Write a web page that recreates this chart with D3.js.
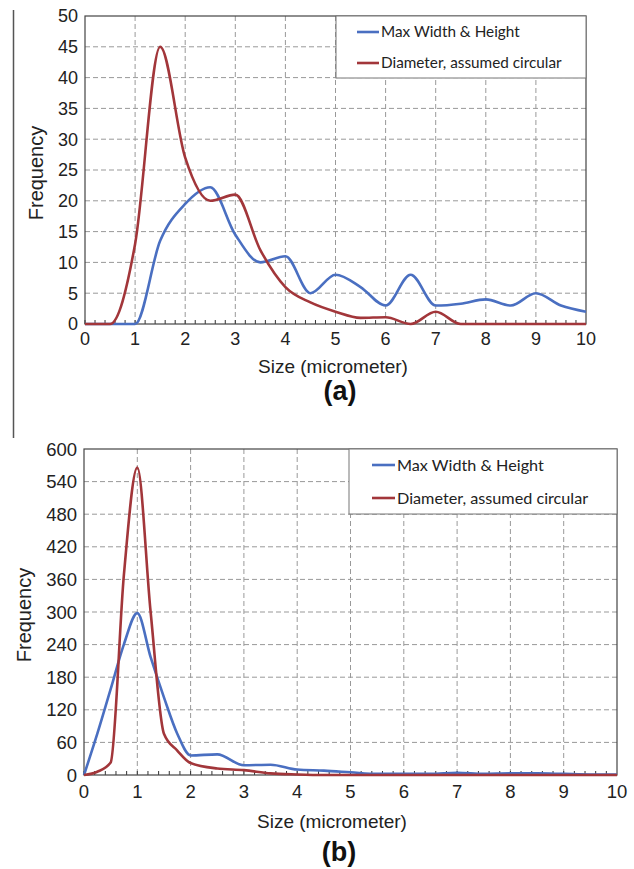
<!DOCTYPE html>
<html>
<head>
<meta charset="utf-8">
<script src="https://cdn.jsdelivr.net/npm/d3@7"></script>
<style>
  body { margin: 0; background: #fff; }
  svg { display: block; }
</style>
</head>
<body>
<script>
// panel (a): sizes at 0.5 micrometer steps
var sizesA = [0, 0.5, 1, 1.5, 2, 2.5, 3, 3.5, 4, 4.5, 5, 5.5, 6, 6.5, 7, 7.5, 8, 8.5, 9, 9.5, 10];
var widthA = [0, 0, 0, 13.5, 19.5, 22.2, 14.5, 10, 11, 5, 8, 6, 3, 8, 3, 3.3, 4, 3, 5, 3, 2];
var diamA  = [0, 0, 13, 45, 27, 20, 21, 12, 6, 3.5, 2, 1, 1.1, 0, 2, 0, 0, 0, 0, 0, 0];
var yTicksA = [0, 5, 10, 15, 20, 25, 30, 35, 40, 45, 50];

// panel (b): finer steps around the peak
var sizesB = [0, 0.25, 0.5, 0.75, 1, 1.25, 1.5, 1.75, 2, 2.5, 3, 3.5, 4, 4.5, 5, 5.5, 6, 6.5, 7, 7.5, 8, 8.5, 9, 9.5, 10];
var widthB = [0, 76, 158, 241, 298, 217, 143, 76, 36, 38, 18, 19, 10, 8, 5, 2, 2, 2, 4, 2, 3, 3, 2, 1, 1];
var diamB  = [0, 6, 23, 370, 566, 300, 76, 45, 22, 12, 9, 3, 1, 0, 0, 0, 0, 0, 0, 0, 0, 0, 0, 0, 0];
var yTicksB = [0, 60, 120, 180, 240, 300, 360, 420, 480, 540, 600];

var xTicks = [0, 1, 2, 3, 4, 5, 6, 7, 8, 9, 10];
var seriesNames = ["Max Width & Height", "Diameter, assumed circular"];
var seriesColors = ["#4a6fc1", "#a2363a"];

var svg = d3.select("body").append("svg")
    .attr("width", 634)
    .attr("height", 869);

// thin rule at the left of the upper panel
svg.append("line")
    .attr("x1", 13.5).attr("x2", 13.5)
    .attr("y1", 10).attr("y2", 438)
    .attr("stroke", "#555").attr("stroke-width", 1.5);

function panel(p) {
  var x = d3.scaleLinear().domain([0, 10]).range([p.left, p.right]),
      y = d3.scaleLinear().domain([0, p.yMax]).range([p.bottom, p.top]),
      g = svg.append("g");

  // dashed grid
  g.selectAll(".gy").data(p.yTicks.slice(1, -1)).enter().append("line")
    .attr("x1", p.left).attr("x2", p.right)
    .attr("y1", function(d) { return y(d); })
    .attr("y2", function(d) { return y(d); })
    .attr("stroke", "#999").attr("stroke-dasharray", "5,3");
  g.selectAll(".gx").data(xTicks.slice(1, -1)).enter().append("line")
    .attr("y1", p.top).attr("y2", p.bottom)
    .attr("x1", function(d) { return x(d); })
    .attr("x2", function(d) { return x(d); })
    .attr("stroke", "#999").attr("stroke-dasharray", "5,3");

  // minor ticks along the x axis, every 0.2
  g.selectAll(".mt").data(d3.range(0, 50)).enter().append("line")
    .attr("x1", function(d) { return x(d * 0.2); })
    .attr("x2", function(d) { return x(d * 0.2); })
    .attr("y1", p.bottom).attr("y2", p.bottom - 4)
    .attr("stroke", "#333");

  // plot border
  g.append("rect")
    .attr("x", p.left).attr("y", p.top)
    .attr("width", p.right - p.left).attr("height", p.bottom - p.top)
    .attr("fill", "none").attr("stroke", "#444").attr("stroke-width", 1.2);

  // tick labels
  g.selectAll(".yl").data(p.yTicks).enter().append("text")
    .attr("x", p.left - 7)
    .attr("y", function(d) { return y(d); })
    .attr("dy", "0.36em")
    .attr("text-anchor", "end")
    .style("font-family", "Liberation Sans, Arial, sans-serif")
    .style("font-size", p.tickSize + "px")
    .attr("fill", "#222")
    .text(function(d) { return d; });
  g.selectAll(".xl").data(xTicks).enter().append("text")
    .attr("x", function(d) { return x(d); })
    .attr("y", p.bottom + p.tickDrop)
    .attr("text-anchor", "middle")
    .style("font-family", "Liberation Sans, Arial, sans-serif")
    .style("font-size", p.tickSize + "px")
    .attr("fill", "#222")
    .text(function(d) { return d; });

  // axis titles
  g.append("text")
    .attr("transform", "translate(" + p.yTitleX + "," + ((p.top + p.bottom) / 2 + 3) + ")rotate(-90)")
    .attr("text-anchor", "middle")
    .attr("dy", "0.36em")
    .style("font-family", "Liberation Sans, Arial, sans-serif")
    .style("font-size", "20px")
    .attr("fill", "#222")
    .text("Frequency");
  g.append("text")
    .attr("x", p.xTitleX).attr("y", p.xTitleY)
    .attr("text-anchor", "middle")
    .style("font-family", "Liberation Sans, Arial, sans-serif")
    .style("font-size", "19px")
    .attr("fill", "#222")
    .text("Size (micrometer)");
  g.append("text")
    .attr("x", p.labelX).attr("y", p.labelY)
    .attr("text-anchor", "middle")
    .style("font-family", "Liberation Sans, Arial, sans-serif")
    .style("font-size", "27px")
    .style("font-weight", "bold")
    .attr("fill", "#111")
    .text(p.label);

  // curves
  var line = d3.line()
    .x(function(d) { return x(d[0]); })
    .y(function(d) { return y(d[1]); })
    .curve(d3.curveMonotoneX);
  p.series.forEach(function(vals, i) {
    g.append("path")
      .datum(d3.zip(p.sizes, vals))
      .attr("d", line)
      .attr("fill", "none")
      .attr("stroke", seriesColors[i])
      .attr("stroke-width", 2.6)
      .attr("stroke-linejoin", "round");
  });

  // legend
  var lg = g.append("g").attr("transform", "translate(" + p.legX + "," + p.top + ")");
  lg.append("rect")
    .attr("width", p.right - p.legX).attr("height", p.legH)
    .attr("fill", "#fff").attr("stroke", "#777");
  seriesNames.forEach(function(name, i) {
    var ly = p.legRow0 + i * p.legStep;
    lg.append("line")
      .attr("x1", p.legLine[0]).attr("x2", p.legLine[1])
      .attr("y1", ly).attr("y2", ly)
      .attr("stroke", seriesColors[i]).attr("stroke-width", 2.6);
    lg.append("text")
      .attr("x", p.legLine[1] + 2).attr("y", ly)
      .attr("dy", "0.35em")
      .style("font-family", "Lato, Open Sans, sans-serif")
      .style("font-size", p.legFont + "px")
      .attr("fill", "#222")
      .text(name);
  });
}

panel({
  left: 85, right: 586, top: 16, bottom: 324, yMax: 50, yTicks: yTicksA,
  sizes: sizesA, series: [widthA, diamA],
  tickSize: 18, tickDrop: 21, yTitleX: 36,
  xTitleX: 333, xTitleY: 373, label: "(a)", labelX: 340, labelY: 400,
  legX: 336, legH: 62, legRow0: 16, legStep: 31, legLine: [21, 43], legFont: 15.3
});

panel({
  left: 84, right: 617, top: 449, bottom: 775, yMax: 600, yTicks: yTicksB,
  sizes: sizesB, series: [widthB, diamB],
  tickSize: 18.5, tickDrop: 23, yTitleX: 24,
  xTitleX: 332, xTitleY: 828, label: "(b)", labelX: 339, labelY: 861,
  legX: 349, legH: 65, legRow0: 16, legStep: 33, legLine: [23, 46], legFont: 16.2
});
</script>
</body>
</html>
